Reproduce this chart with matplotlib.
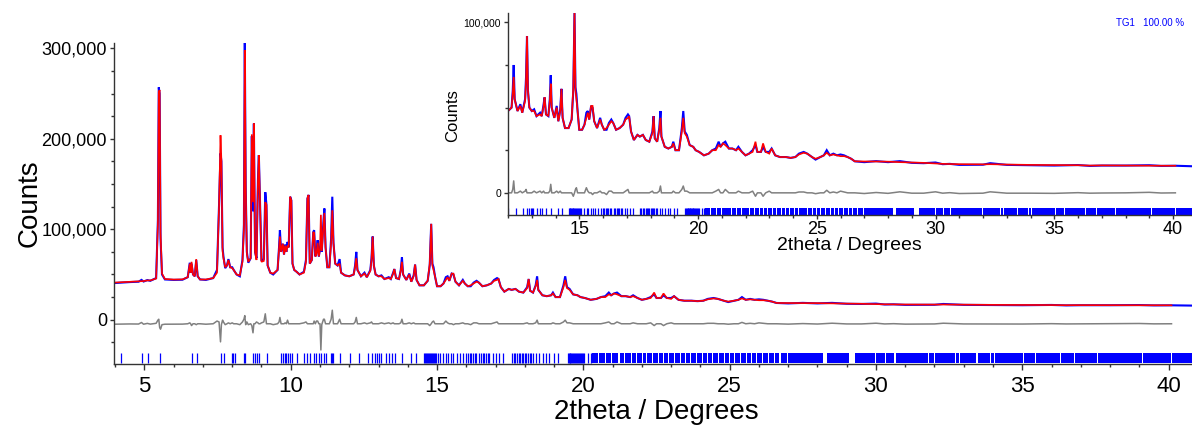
import numpy as np
import matplotlib
matplotlib.use("Agg")
import matplotlib.pyplot as plt
from matplotlib.ticker import FuncFormatter, MultipleLocator

# ---------------------------------------------------------------------------
# Powder pattern (profile vertices): 2theta in degrees, intensities in
# thousands of counts.  Observed in blue, calculated in red.
# ---------------------------------------------------------------------------
two_theta = [
    3.96, 4.20, 4.50, 4.80, 4.90, 4.97, 5.10, 5.20, 5.40, 5.46,
    5.49, 5.52, 5.55, 5.60, 5.70, 6.00, 6.30, 6.48, 6.55, 6.58,
    6.61, 6.66, 6.72, 6.77, 6.82, 6.90, 7.10, 7.35, 7.48, 7.55,
    7.60, 7.63, 7.67, 7.70, 7.76, 7.82, 7.87, 7.93, 8.00, 8.05,
    8.15, 8.26, 8.35, 8.40, 8.43, 8.46, 8.50, 8.55, 8.63, 8.67,
    8.71, 8.74, 8.78, 8.83, 8.88, 8.91, 8.95, 9.00, 9.08, 9.13,
    9.17, 9.21, 9.30, 9.40, 9.55, 9.60, 9.63, 9.67, 9.73, 9.77,
    9.81, 9.85, 9.89, 9.93, 9.98, 10.02, 10.06, 10.12, 10.20, 10.30,
    10.45, 10.52, 10.57, 10.61, 10.65, 10.72, 10.77, 10.80, 10.84, 10.88,
    10.92, 10.96, 11.00, 11.03, 11.06, 11.12, 11.15, 11.19, 11.25, 11.32,
    11.38, 11.42, 11.46, 11.52, 11.60, 11.67, 11.72, 11.85, 12.00, 12.15,
    12.20, 12.24, 12.28, 12.40, 12.52, 12.60, 12.72, 12.76, 12.80, 12.84,
    12.90, 13.00, 13.10, 13.20, 13.35, 13.42, 13.50, 13.54, 13.60, 13.70,
    13.76, 13.80, 13.84, 13.95, 14.05, 14.12, 14.20, 14.25, 14.30, 14.40,
    14.55, 14.68, 14.75, 14.80, 14.84, 14.88, 14.93, 15.00, 15.12, 15.22,
    15.30, 15.36, 15.42, 15.50, 15.56, 15.63, 15.75, 15.88, 15.95, 16.05,
    16.15, 16.25, 16.35, 16.43, 16.55, 16.70, 16.85, 16.95, 17.05, 17.10,
    17.18, 17.30, 17.45, 17.55, 17.68, 17.80, 17.95, 18.08, 18.13, 18.18,
    18.28, 18.37, 18.42, 18.46, 18.60, 18.75, 18.90, 18.96, 19.05, 19.20,
    19.32, 19.38, 19.44, 19.53, 19.65, 19.80, 19.90, 20.05, 20.25, 20.45,
    20.60, 20.75, 20.87, 20.95, 21.05, 21.15, 21.30, 21.45, 21.60, 21.70,
    21.85, 22.00, 22.15, 22.30, 22.42, 22.50, 22.65, 22.74, 22.85, 23.00,
    23.10, 23.25, 23.45, 23.70, 23.90, 24.10, 24.25, 24.45, 24.60, 24.80,
    24.95, 25.15, 25.30, 25.42, 25.55, 25.70, 25.85, 26.00, 26.15, 26.30,
    26.45, 26.60, 27.00, 27.50, 28.00, 28.50, 29.00, 29.50, 30.00, 30.30,
    30.60, 31.00, 32.00, 32.30, 33.00, 34.00, 35.00, 36.00, 36.50, 37.00,
    38.00, 39.00, 39.50, 40.10, 40.50, 40.80,
]
observed_k = [
    40.5, 41.0, 41.6, 42.0, 44.0, 42.2, 43.8, 43.0, 46.0, 110,
    257, 250, 90, 50, 44.5, 44.0, 44.2, 47, 63, 52,
    62, 50, 48, 66, 48, 44.5, 44, 46, 55, 127,
    184, 175, 80, 70, 57, 60, 67, 58, 58, 55,
    50, 48, 66, 105, 307, 147, 75, 63, 68, 203,
    120, 217, 75, 68, 155, 182, 128, 65, 67, 141,
    127, 60, 52, 50, 55, 80, 99, 75, 84, 72,
    83, 75, 86, 80, 136, 132, 62, 55, 53, 50,
    53, 66, 134, 138, 62, 66, 97, 99, 70, 75,
    88, 70, 78, 87, 75, 110, 123, 80, 58, 58,
    90, 136, 85, 62, 60, 67, 52, 49, 48, 50,
    60, 75, 55, 48, 52, 47, 55, 68, 92, 60,
    50, 48, 49, 45, 47, 45, 52, 56, 46, 45,
    55, 69, 50, 44, 51, 42, 49, 61, 44, 38,
    38, 43, 60, 106, 62, 58, 48, 37, 37, 40,
    47, 48, 43, 51, 50, 42, 38, 44, 40, 37,
    37, 41, 43, 41, 37, 38, 40, 44, 46, 45,
    36, 31, 34, 33, 34, 31, 30, 36, 45, 32,
    30, 38, 48, 33, 27, 26, 27, 30, 25, 25,
    38, 48, 36, 34, 28, 27, 25, 24, 22, 23,
    25, 26, 30, 27, 29, 30, 26, 26, 25, 27,
    24, 22, 23, 25, 28, 24, 24, 27, 24, 24,
    26, 22, 21, 21, 20.5, 21, 23, 24, 23, 21,
    19.5, 21, 22, 25, 22, 23, 22, 22.5, 22, 21,
    20, 18.5, 18.0, 18.6, 18.0, 18.6, 17.6, 17.4, 17.8, 16.8,
    17.0, 16.4, 16.5, 17.4, 16.4, 16.2, 16.0, 16.3, 15.8, 16.0,
    16.0, 16.2, 15.8, 15.9, 15.7, 15.6,
]
calculated_k = [
    41.0, 41.4, 41.8, 42.3, 42.6, 42.7, 43.4, 43.4, 45.5, 106,
    252, 254, 96, 51, 45.0, 44.4, 44.6, 47, 62, 52,
    64, 50, 48, 67, 48, 44.5, 44.5, 46, 52, 125,
    204, 176, 76, 68, 58, 60, 66, 58, 57, 55,
    50, 49, 64, 100, 298, 148, 73, 64, 68, 205,
    130, 217, 75, 66, 154, 182, 128, 64, 65, 130,
    127, 60, 52, 51, 55, 78, 92, 75, 84, 72,
    82, 75, 82, 80, 136, 132, 62, 55, 53, 50,
    52, 64, 134, 138, 62, 66, 97, 96, 70, 72,
    85, 70, 78, 116, 76, 105, 118, 80, 58, 58,
    85, 121, 85, 62, 60, 62, 52, 49, 48, 50,
    58, 68, 55, 48, 51, 47, 54, 66, 92, 60,
    50, 48, 48, 45, 46, 45, 51, 56, 46, 45,
    54, 64, 50, 44, 50, 42, 48, 61, 44, 38,
    38, 43, 62, 106, 60, 55, 48, 37, 37, 40,
    44, 47, 43, 51, 51, 42, 38, 43, 40, 37,
    38, 40, 42, 41, 37, 38, 40, 43, 44, 45,
    36, 31, 34, 33, 34, 31, 30, 35, 45, 32,
    30, 37, 44, 33, 27, 26, 27, 29, 25, 25,
    36, 44, 35, 33, 28, 27, 25, 24, 22, 23,
    25, 25, 28, 27, 29, 28, 26, 26, 25, 26,
    24, 22, 23, 24, 30, 24, 24, 29, 24, 23,
    26, 22, 21, 21, 20.5, 21, 22.5, 23.5, 23, 21,
    20, 21, 22, 23.5, 22, 22.5, 22, 21.5, 21.5, 21,
    20, 18.5, 18.4, 18.4, 18.3, 18.0, 17.8, 17.6, 17.2, 17.0,
    16.9, 16.8, 16.7, 16.8, 16.6, 16.4, 16.3, 16.2, 16.0, 16.1,
    16.0, 15.9, 15.9, 15.9, np.nan, np.nan,
]

# Reflection positions (degrees 2theta), resolved individually below ~20.3
reflections = [
    4.19, 4.93, 5.11, 5.53, 6.61, 6.80, 7.63, 7.71, 7.98, 8.03,
    8.09, 8.41, 8.45, 8.72, 8.77, 8.83, 8.92, 9.20, 9.68, 9.74,
    9.80, 9.85, 9.91, 9.97, 10.05, 10.22, 10.44, 10.56, 10.67, 10.79,
    10.88, 10.96, 11.02, 11.13, 11.22, 11.39, 11.41, 11.45, 11.70, 12.01,
    12.33, 12.64, 12.79, 12.87, 12.95, 13.02, 13.07, 13.24, 13.36, 13.45,
    13.58, 13.81, 14.12, 14.27, 14.57, 14.60, 14.63, 14.66, 14.69, 14.72,
    14.75, 14.78, 14.82, 14.86, 14.90, 14.94, 14.98, 15.02, 15.09, 15.20,
    15.31, 15.37, 15.48, 15.56, 15.68, 15.77, 15.90, 15.99, 16.05, 16.11,
    16.17, 16.22, 16.28, 16.34, 16.45, 16.51, 16.57, 16.62, 16.68, 16.74,
    16.79, 16.91, 17.00, 17.13, 17.27, 17.56, 17.62, 17.68, 17.73, 17.79,
    17.84, 17.90, 17.95, 18.00, 18.05, 18.10, 18.16, 18.22, 18.27, 18.39,
    18.50, 18.61, 18.73, 18.84, 19.01, 19.12, 19.47, 19.50, 19.53, 19.56,
    19.59, 19.62, 19.65, 19.68, 19.72, 19.75, 19.78, 19.81, 19.85, 19.88,
    19.92, 19.96, 20.00, 20.03, 20.15, 20.26,
]
# Above ~20.3 degrees the reflections merge into dense runs (start, end)
reflection_runs = [
    (20.30, 20.50), (20.54, 20.75), (20.79, 20.95), (20.99, 21.20),
    (21.24, 21.40), (21.44, 21.62), (21.66, 21.80), (21.84, 22.00),
    (22.04, 22.15), (22.19, 22.35), (22.39, 22.55), (22.59, 22.72),
    (22.76, 22.90), (22.94, 23.10), (23.14, 23.30), (23.34, 23.48),
    (23.52, 23.65), (23.69, 23.85), (23.89, 24.05), (24.09, 24.22),
    (24.26, 24.40), (24.44, 24.60), (24.64, 24.80), (24.84, 24.98),
    (25.02, 25.15), (25.19, 25.35), (25.39, 25.55), (25.59, 25.72),
    (25.76, 25.90), (25.94, 26.10), (26.14, 26.30), (26.34, 26.50),
    (26.54, 26.70), (26.74, 26.95), (26.99, 28.20), (28.32, 29.09),
    (29.29, 29.97), (30.01, 30.30), (30.34, 30.63), (30.67, 31.77),
    (31.81, 31.97), (32.01, 32.70), (32.74, 32.83), (32.87, 33.43),
    (33.47, 33.90), (33.94, 34.03), (34.07, 35.03), (35.07, 35.43),
    (35.47, 36.29), (36.33, 36.76), (36.80, 37.56), (37.60, 39.09),
    (39.13, 40.09), (40.13, 40.80),
]

phase_label = "TG1   100.00 %"

tt = np.asarray(two_theta)
obs = np.asarray(observed_k) * 1000.0
calc = np.asarray(calculated_k) * 1000.0
diff = obs - calc

BLUE = "#0000FF"
RED = "#FF0000"
GREY = "#808080"

plt.rcParams['font.family'] = ['Liberation Sans', 'DejaVu Sans']

fig = plt.figure(figsize=(11.92, 4.28), dpi=100)
W, H = 1192.0, 428.0


def axes_box(left, top, right, bottom):
    return [left / W, 1 - bottom / H, (right - left) / W, (bottom - top) / H]


def draw_pattern(ax, diff_offset, tick_frac):
    ax.plot(tt, obs, color=BLUE, lw=1.5, solid_joinstyle="miter")
    ax.plot(tt, calc, color=RED, lw=1.2, solid_joinstyle="miter")
    ax.plot(tt, diff + diff_offset, color=GREY, lw=1.1)
    trans = ax.get_xaxis_transform()
    ax.vlines(reflections, tick_frac[0], tick_frac[1], color=BLUE,
              lw=0.9, transform=trans)
    ax.broken_barh([(a, b - a) for a, b in reflection_runs],
                   (tick_frac[0], tick_frac[1] - tick_frac[0]),
                   facecolors=BLUE, edgecolors="none", transform=trans)
    for side in ("top", "right"):
        ax.spines[side].set_visible(False)
    for side in ("left", "bottom"):
        ax.spines[side].set_color("#333333")
        ax.spines[side].set_linewidth(1.0)
    ax.yaxis.set_major_formatter(FuncFormatter(lambda v, _: f"{v:,.0f}"))
    ax.yaxis.set_major_locator(MultipleLocator(100000))
    ax.yaxis.set_minor_locator(MultipleLocator(25000))
    ax.xaxis.set_major_locator(MultipleLocator(5))
    ax.xaxis.set_minor_locator(MultipleLocator(1))
    ax.set_facecolor("white")


# Main panel
ax = fig.add_axes(axes_box(114, 43, 1192, 364))
draw_pattern(ax, -4500, (0.003, 0.034))
ax.set_xlim(3.96, 40.8)
ax.set_ylim(-49000, 306000)
ax.tick_params(axis="y", which="major", direction="out", length=3, width=1,
               labelsize=13, pad=2, color="#333333")
ax.tick_params(axis="y", which="minor", direction="out", length=2, width=1,
               color="#333333")
ax.tick_params(axis="x", which="major", direction="out", length=4, width=1,
               labelsize=16, pad=5, color="#333333")
ax.tick_params(axis="x", which="minor", direction="out", length=2.5, width=1,
               color="#333333")
fig.text(656 / W, 1 - 412 / H, "2theta / Degrees", fontsize=20,
         ha="center", va="center")
fig.text(30 / W, 1 - 203 / H, "Counts", fontsize=20, rotation=90,
         ha="center", va="center")

# Inset: same pattern above 12 degrees
axi = fig.add_axes(axes_box(508, 13, 1192, 215))
draw_pattern(axi, 0, (0.0, 0.034))
axi.set_xlim(12.0, 40.8)
axi.set_ylim(-13000, 105500)
axi.tick_params(axis="y", which="major", direction="out", length=3, width=1,
                labelsize=7.5, pad=2, color="#333333")
axi.tick_params(axis="y", which="minor", direction="out", length=2, width=1,
                color="#333333")
axi.tick_params(axis="x", which="major", direction="out", length=3, width=1,
                labelsize=13, pad=1.5, color="#333333")
axi.tick_params(axis="x", which="minor", direction="out", length=2, width=1,
                color="#333333")
fig.text(849 / W, 1 - 245 / H, "2theta / Degrees", fontsize=14,
         ha="center", va="center")
fig.text(453 / W, 1 - 116 / H, "Counts", fontsize=12, rotation=90,
         ha="center", va="center")
fig.text(1150 / W, 1 - 23 / H, phase_label, fontsize=7, color=BLUE,
         ha="center", va="center")

fig.savefig("out.png", dpi=100)
